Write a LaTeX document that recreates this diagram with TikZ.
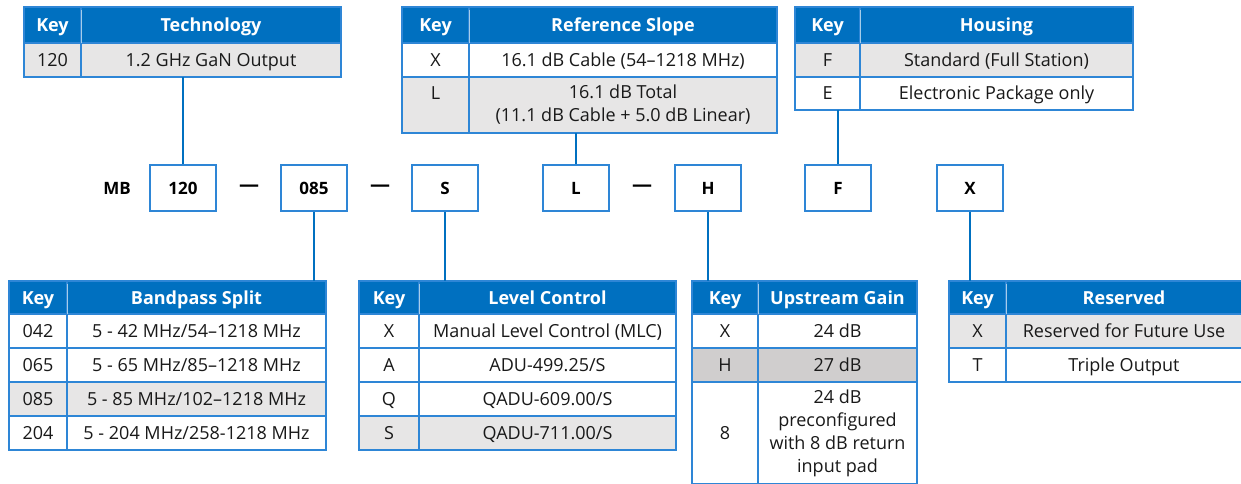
\documentclass[tikz,border=0pt]{standalone}
\usepackage{fontspec}
\setmainfont{Open Sans}
\definecolor{hdrblue}{RGB}{0,112,192}
\definecolor{brdblue}{RGB}{46,134,214}
\definecolor{rowgray}{RGB}{231,230,230}
\definecolor{rowdark}{RGB}{208,206,206}
\definecolor{txtc}{RGB}{25,25,25}
\newcommand{\mytfont}{\fontsize{18}{23}\selectfont}
\newcommand{\myhfont}{\fontsize{18}{22}\selectfont\bfseries}
\newcommand{\mybfont}{\fontsize{17}{20}\selectfont\bfseries}
\newcommand{\mydfont}{\fontsize{20}{20}\selectfont\bfseries}
\newcommand{\tcell}[7]{\pgfmathsetmacro{\cw}{#4-#2}\pgfmathsetmacro{\ch}{#5-#3}\node[#6, minimum width=\cw pt, minimum height=\ch pt] (#1) at (#2,#3) {#7};}
\tikzset{
 cellbase/.style={draw=brdblue, line width=1.6pt, inner sep=0pt, outer sep=0pt, anchor=north west, align=center, font=\mytfont, text=txtc},
 oneline/.style={text height=13pt, text depth=0pt},
 hdrcell/.style={cellbase, oneline, fill=hdrblue, text=white, font=\myhfont},
 whitecell/.style={cellbase, oneline, fill=white},
 greycell/.style={cellbase, oneline, fill=rowgray},
 darkcell/.style={cellbase, oneline, fill=rowdark},
 codebox/.style={draw=brdblue, line width=1.6pt, fill=white, minimum width=66pt, minimum height=46pt, inner sep=0pt, text height=12.5pt, text depth=0pt, font=\mybfont, text=black},
 conn/.style={draw=hdrblue, line width=2.4pt},
 lbl/.style={font=\mybfont, inner sep=0pt, text=black},
 dashlbl/.style={font=\mydfont, inner sep=0pt, text=black},
 hdiv/.style={draw=white!65!hdrblue, line width=1pt},
}
\begin{document}
\begin{tikzpicture}[x=1pt,y=-1pt]
\useasboundingbox (0,0) rectangle (1241,484);
\clip (0,0) rectangle (1241,484);
% ---- Technology
\tcell{th-k}{24}{7}{81}{43}{hdrcell}{Key}
\tcell{th-t}{81}{7}{341}{43}{hdrcell}{Technology}
\tcell{t1-k}{24}{43}{81}{77}{greycell}{120}
\tcell{t1-t}{81}{43}{341}{77}{greycell}{1.2 GHz GaN Output}
% ---- Reference slope
\tcell{rh-k}{402}{7}{469}{43}{hdrcell}{Key}
\tcell{rh-t}{469}{7}{777}{43}{hdrcell}{Reference Slope}
\tcell{r1-k}{402}{43}{469}{77}{whitecell}{X}
\tcell{r1-t}{469}{43}{777}{77}{whitecell}{16.1 dB Cable (54–1218 MHz)}
\tcell{r2-k}{402}{77}{469}{133}{cellbase, fill=rowgray}{L\\\mbox{}}
\tcell{r2-t}{469}{77}{777}{133}{cellbase, fill=rowgray}{16.1 dB Total\\(11.1 dB Cable + 5.0 dB Linear)}
% ---- Housing
\tcell{hh-k}{795}{7}{860}{43}{hdrcell}{Key}
\tcell{hh-t}{860}{7}{1133}{43}{hdrcell}{Housing}
\tcell{h1-k}{795}{43}{860}{77}{greycell}{F}
\tcell{h1-t}{860}{43}{1133}{77}{greycell}{Standard (Full Station)}
\tcell{h2-k}{795}{77}{860}{110}{whitecell}{E}
\tcell{h2-t}{860}{77}{1133}{110}{whitecell}{Electronic Package only}
% ---- Bandpass split
\tcell{bh-k}{9}{281}{67}{314}{hdrcell}{Key}
\tcell{bh-t}{67}{281}{326}{314}{hdrcell}{Bandpass Split}
\tcell{b1-k}{9}{314}{67}{348}{whitecell}{042}
\tcell{b1-t}{67}{314}{326}{348}{whitecell}{5 - 42 MHz/54–1218 MHz}
\tcell{b2-k}{9}{348}{67}{382}{whitecell}{065}
\tcell{b2-t}{67}{348}{326}{382}{whitecell}{5 - 65 MHz/85–1218 MHz}
\tcell{b3-k}{9}{382}{67}{416}{greycell}{085}
\tcell{b3-t}{67}{382}{326}{416}{greycell}{5 - 85 MHz/102–1218 MHz}
\tcell{b4-k}{9}{416}{67}{450}{whitecell}{204}
\tcell{b4-t}{67}{416}{326}{450}{whitecell}{5 - 204 MHz/258-1218 MHz}
% ---- Level control
\tcell{lh-k}{359}{281}{419}{314}{hdrcell}{Key}
\tcell{lh-t}{419}{281}{676}{314}{hdrcell}{Level Control}
\tcell{l1-k}{359}{314}{419}{348}{whitecell}{X}
\tcell{l1-t}{419}{314}{676}{348}{whitecell}{Manual Level Control (MLC)}
\tcell{l2-k}{359}{348}{419}{382}{whitecell}{A}
\tcell{l2-t}{419}{348}{676}{382}{whitecell}{ADU-499.25/S}
\tcell{l3-k}{359}{382}{419}{416}{whitecell}{Q}
\tcell{l3-t}{419}{382}{676}{416}{whitecell}{QADU-609.00/S}
\tcell{l4-k}{359}{416}{419}{450}{greycell}{S}
\tcell{l4-t}{419}{416}{676}{450}{greycell}{QADU-711.00/S}
% ---- Upstream gain
\tcell{uh-k}{692}{281}{758}{314}{hdrcell}{Key}
\tcell{uh-t}{758}{281}{917}{314}{hdrcell}{Upstream Gain}
\tcell{u1-k}{692}{314}{758}{348}{whitecell}{X}
\tcell{u1-t}{758}{314}{917}{348}{whitecell}{24 dB}
\tcell{u2-k}{692}{348}{758}{382}{darkcell}{H}
\tcell{u2-t}{758}{348}{917}{382}{darkcell}{27 dB}
\tcell{u3-k}{692}{382}{758}{484}{whitecell}{8}
\tcell{u3-t}{758}{382}{917}{484}{cellbase, fill=white}{24 dB\\preconfigured\\with 8 dB return\\input pad}
% ---- Reserved
\tcell{xh-k}{949}{281}{1006}{314}{hdrcell}{Key}
\tcell{xh-t}{1006}{281}{1250}{314}{hdrcell}{\hspace*{-8pt}Reserved}
\tcell{x1-k}{949}{314}{1006}{348}{greycell}{X}
\tcell{x1-t}{1006}{314}{1250}{348}{greycell}{\hspace*{-8pt}Reserved for Future Use}
\tcell{x2-k}{949}{348}{1006}{382}{whitecell}{T}
\tcell{x2-t}{1006}{348}{1250}{382}{whitecell}{\hspace*{-8pt}Triple Output}
% header dividers
\foreach \n in {th,rh,hh,bh,lh,uh,xh} \draw[hdiv] (\n-k.north east) ++(0,3) -- (\n-k.south east);
% ---- code row
\node[lbl] (mb) at (117,188) {MB};
\node[codebox] (b120) at (183,188) {120};
\node[dashlbl] (d1) at (249,188) {—};
\node[codebox] (b085) at (314,188) {085};
\node[dashlbl] (d2) at (380,188) {—};
\node[codebox] (bS) at (445,188) {S};
\node[codebox] (bL) at (576,188) {L};
\node[dashlbl] (d3) at (642,188) {—};
\node[codebox] (bH) at (708,188) {H};
\node[codebox] (bF) at (838,188) {F};
\node[codebox] (bX) at (970,188) {X};
% ---- connectors
\draw[conn] (b120.north |- t1-t.south) -- (b120.north);
\draw[conn] (bL.north |- r2-t.south) -- (bL.north);
\draw[conn] (bF.north |- h2-k.south) -- (bF.north);
\draw[conn] (b085.south) -- (b085.south |- bh-t.north);
\draw[conn] (bS.south) -- (bS.south |- lh-k.north);
\draw[conn] (bH.south) -- (bH.south |- uh-k.north);
\draw[conn] (bX.south) -- (bX.south |- xh-k.north);
\end{tikzpicture}
\end{document}
